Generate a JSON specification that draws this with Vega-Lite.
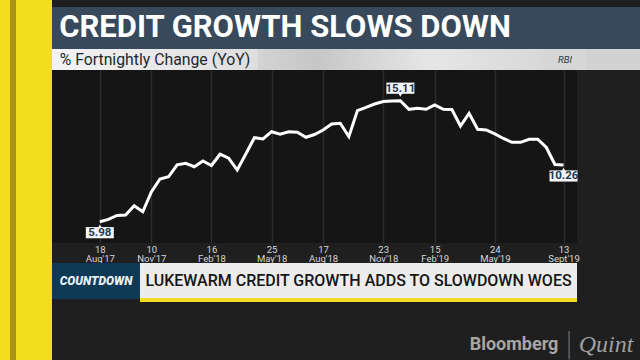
{
  "$schema": "https://vega.github.io/schema/vega-lite/v6.json",
  "background": "#1f1f1f",
  "padding": 0,
  "config": {"view": {"stroke": null}, "concat": {"spacing": 0}, "font": "Roboto"},
  "datasets": {
    "blank": [],
    "credit": [
      {"date": "2017-08-18", "value": 5.98},
      {"date": "2017-09-01", "value": 6.15},
      {"date": "2017-09-15", "value": 6.45},
      {"date": "2017-09-29", "value": 6.49},
      {"date": "2017-10-13", "value": 7.18},
      {"date": "2017-10-27", "value": 6.73},
      {"date": "2017-11-10", "value": 8.22},
      {"date": "2017-11-24", "value": 9.2},
      {"date": "2017-12-08", "value": 9.37},
      {"date": "2017-12-22", "value": 10.27},
      {"date": "2018-01-05", "value": 10.39},
      {"date": "2018-01-19", "value": 10.13},
      {"date": "2018-02-02", "value": 10.56},
      {"date": "2018-02-16", "value": 10.22},
      {"date": "2018-03-02", "value": 11.07},
      {"date": "2018-03-16", "value": 10.77},
      {"date": "2018-03-30", "value": 9.88},
      {"date": "2018-04-13", "value": 11.09},
      {"date": "2018-04-27", "value": 12.32},
      {"date": "2018-05-11", "value": 12.22},
      {"date": "2018-05-25", "value": 12.77},
      {"date": "2018-06-08", "value": 12.58},
      {"date": "2018-06-22", "value": 12.77},
      {"date": "2018-07-06", "value": 12.73},
      {"date": "2018-07-20", "value": 12.35},
      {"date": "2018-08-03", "value": 12.56},
      {"date": "2018-08-17", "value": 12.9},
      {"date": "2018-08-31", "value": 13.35},
      {"date": "2018-09-14", "value": 13.41},
      {"date": "2018-09-28", "value": 12.4},
      {"date": "2018-10-12", "value": 14.36},
      {"date": "2018-10-26", "value": 14.6},
      {"date": "2018-11-09", "value": 14.86},
      {"date": "2018-11-23", "value": 15.05},
      {"date": "2018-12-07", "value": 15.08},
      {"date": "2018-12-21", "value": 15.11},
      {"date": "2019-01-04", "value": 14.46},
      {"date": "2019-01-18", "value": 14.54},
      {"date": "2019-02-01", "value": 14.46},
      {"date": "2019-02-15", "value": 14.79},
      {"date": "2019-03-01", "value": 14.46},
      {"date": "2019-03-15", "value": 14.45},
      {"date": "2019-03-29", "value": 13.2},
      {"date": "2019-04-12", "value": 14.16},
      {"date": "2019-04-26", "value": 12.95},
      {"date": "2019-05-10", "value": 12.9},
      {"date": "2019-05-24", "value": 12.6},
      {"date": "2019-06-07", "value": 12.26},
      {"date": "2019-06-21", "value": 11.97},
      {"date": "2019-07-05", "value": 11.97},
      {"date": "2019-07-19", "value": 12.2},
      {"date": "2019-08-02", "value": 12.2},
      {"date": "2019-08-16", "value": 11.58},
      {"date": "2019-08-30", "value": 10.3},
      {"date": "2019-09-13", "value": 10.26}
    ]
  },
  "spacing": 0,
  "hconcat": [
    {"width": 10, "height": 360, "view": {"fill": "#f4dc1e"}, "data": {"name": "blank"}, "mark": "text", "encoding": {"text": {"field": "label", "type": "nominal"}}},
    {"width": 6, "height": 360, "view": {"fill": "#a8921a"}, "data": {"name": "blank"}, "mark": "text", "encoding": {"text": {"field": "label", "type": "nominal"}}},
    {"width": 36, "height": 360, "view": {"fill": "#f4dc1e"}, "data": {"name": "blank"}, "mark": "text", "encoding": {"text": {"field": "label", "type": "nominal"}}},
    {
      "spacing": 0,
      "vconcat": [
        {"width": 588, "height": 7, "data": {"name": "blank"}, "mark": "text", "encoding": {"text": {"field": "label", "type": "nominal"}}},
        {
          "spacing": 0,
          "hconcat": [
            {"width": 466, "height": 42, "view": {"fill": "#37495b"}, "data": {"values": [{"label": "CREDIT GROWTH SLOWS DOWN"}]}, "mark": {"type": "text", "font": "Roboto", "fontSize": 31, "fontWeight": "bold", "color": "#ffffff", "baseline": "middle"}, "encoding": {"text": {"field": "label", "type": "nominal"}}},
            {"width": 122, "height": 42, "view": {"fill": "#37495b"}, "data": {"name": "blank"}, "mark": "text", "encoding": {"text": {"field": "label", "type": "nominal"}}}
          ]
        },
        {
          "spacing": 0,
          "hconcat": [
            {"width": 206, "height": 21, "view": {"fill": {"gradient": "linear", "stops": [{"offset": 0, "color": "#f3f3f3"}, {"offset": 1, "color": "#dedede"}]}}, "data": {"values": [{"label": "% Fortnightly Change (YoY)"}]}, "mark": {"type": "text", "font": "Roboto", "fontSize": 15.8, "color": "#1e2830", "baseline": "middle"}, "encoding": {"text": {"field": "label", "type": "nominal"}}},
            {"width": 285, "height": 21, "view": {"fill": {"gradient": "linear", "stops": [{"offset": 0, "color": "#d4d4d4"}, {"offset": 0.2, "color": "#c6c6c6"}, {"offset": 0.6, "color": "#e6e6e6"}, {"offset": 1, "color": "#d8d8d8"}]}}, "data": {"name": "blank"}, "mark": "text", "encoding": {"text": {"field": "label", "type": "nominal"}}},
            {"width": 44, "height": 21, "view": {"fill": "#d6d6d6"}, "data": {"values": [{"label": "RBI"}]}, "mark": {"type": "text", "font": "Roboto", "fontSize": 9.5, "fontStyle": "italic", "color": "#333333", "baseline": "middle"}, "encoding": {"text": {"field": "label", "type": "nominal"}}},
            {"width": 53, "height": 21, "view": {"fill": "#d2d2d2"}, "data": {"name": "blank"}, "mark": "text", "encoding": {"text": {"field": "label", "type": "nominal"}}}
          ]
        },
        {
          "spacing": 20,
          "bounds": "flush",
          "vconcat": [
            {
              "width": 525, "height": 173,
              "view": {"fill": "#151515"},
              "data": {"name": "credit"},
              "encoding": {
                "x": {
                  "field": "date", "type": "temporal",
                  "scale": {"type": "utc", "domain": [{"year": 2017, "month": 6, "date": 1, "utc": true}, {"year": 2019, "month": 10, "date": 5, "utc": true}]},
                  "axis": {
                    "values": [
                      {"year": 2017, "month": 8, "date": 18, "utc": true},
                      {"year": 2017, "month": 11, "date": 10, "utc": true},
                      {"year": 2018, "month": 2, "date": 16, "utc": true},
                      {"year": 2018, "month": 5, "date": 25, "utc": true},
                      {"year": 2018, "month": 8, "date": 17, "utc": true},
                      {"year": 2018, "month": 11, "date": 23, "utc": true},
                      {"year": 2019, "month": 2, "date": 15, "utc": true},
                      {"year": 2019, "month": 5, "date": 24, "utc": true},
                      {"year": 2019, "month": 9, "date": 13, "utc": true}
                    ],
                    "labelExpr": "[utcFormat(datum.value, '%d'), (utcFormat(datum.value, '%b') == 'Sep' ? 'Sept' : utcFormat(datum.value, '%b')) + \"'\" + utcFormat(datum.value, '%y')]",
                    "grid": true, "gridColor": "#2d2d2d", "gridWidth": 1.5,
                    "domain": false, "ticks": false,
                    "labelColor": "#d8d8d8", "labelFont": "Roboto", "labelFontSize": 9.5, "labelLineHeight": 9.5, "labelPadding": 1,
                    "labelFlush": false, "labelOverlap": false, "title": null
                  }
                },
                "y": {"field": "value", "type": "quantitative", "scale": {"domain": [4.372, 17.427], "nice": false, "zero": false}, "axis": null}
              },
              "layer": [
                {"mark": {"type": "line", "color": "#ffffff", "strokeWidth": 3, "strokeJoin": "miter", "strokeMiterLimit": 3}},
                {"transform": [{"filter": "datum.value == 5.98 || datum.value == 10.26"}], "mark": {"type": "point", "shape": "triangle-up", "filled": true, "color": "#f5f5f5", "opacity": 1, "size": 25, "yOffset": 5}},
                {"transform": [{"filter": "datum.value == 5.98 || datum.value == 10.26"}], "mark": {"type": "point", "shape": "M-1,-0.4L1,-0.4L1,0.4L-1,0.4Z", "filled": true, "color": "#f5f5f5", "opacity": 1, "size": 784, "yOffset": 11}},
                {"transform": [{"filter": "datum.value == 5.98 || datum.value == 10.26"}], "mark": {"type": "text", "yOffset": 11.5, "font": "Roboto", "fontWeight": "bold", "fontSize": 11.5, "color": "#1c3a56", "baseline": "middle"}, "encoding": {"text": {"field": "value", "type": "quantitative", "format": ".2f"}}},
                {"transform": [{"filter": "datum.value == 15.11"}], "mark": {"type": "point", "shape": "triangle-down", "filled": true, "color": "#f5f5f5", "opacity": 1, "size": 25, "yOffset": -6}},
                {"transform": [{"filter": "datum.value == 15.11"}], "mark": {"type": "point", "shape": "M-1,-0.4L1,-0.4L1,0.4L-1,0.4Z", "filled": true, "color": "#f5f5f5", "opacity": 1, "size": 784, "yOffset": -12.5}},
                {"transform": [{"filter": "datum.value == 15.11"}], "mark": {"type": "text", "yOffset": -12, "font": "Roboto", "fontWeight": "bold", "fontSize": 11.5, "color": "#1c3a56", "baseline": "middle"}, "encoding": {"text": {"field": "value", "type": "quantitative", "format": ".2f"}}}
              ]
            },
            {
              "spacing": 29,
              "vconcat": [
                {
                  "spacing": 0,
                  "hconcat": [
                    {"width": 88, "height": 36, "view": {"fill": "#0f3a55"}, "data": {"values": [{"label": "COUNTDOWN"}]}, "mark": {"type": "text", "font": "Roboto", "fontSize": 12, "fontWeight": 900, "fontStyle": "italic", "color": "#e6eef4", "baseline": "middle"}, "encoding": {"text": {"field": "label", "type": "nominal"}}},
                    {
                      "spacing": 0,
                      "vconcat": [
                        {"width": 437, "height": 35, "view": {"fill": "#ececec"}, "data": {"values": [{"label": "LUKEWARM CREDIT GROWTH ADDS TO SLOWDOWN WOES"}]}, "mark": {"type": "text", "font": "Roboto", "fontSize": 16, "fontWeight": 500, "color": "#161616", "baseline": "middle"}, "encoding": {"text": {"field": "label", "type": "nominal"}}},
                        {"width": 437, "height": 4, "view": {"fill": "#f0dc24"}, "data": {"name": "blank"}, "mark": "text", "encoding": {"text": {"field": "label", "type": "nominal"}}}
                      ]
                    }
                  ]
                },
                {
                  "spacing": 0,
                  "hconcat": [
                    {"width": 412, "height": 28, "data": {"name": "blank"}, "mark": "text", "encoding": {"text": {"field": "label", "type": "nominal"}}},
                    {"width": 100, "height": 28, "data": {"values": [{"label": "Bloomberg"}]}, "mark": {"type": "text", "font": "Roboto", "fontSize": 18, "fontWeight": "bold", "color": "#a6a6a6", "baseline": "middle"}, "encoding": {"text": {"field": "label", "type": "nominal"}}},
                    {"width": 8, "height": 28, "data": {"values": [{"label": "|"}]}, "mark": {"type": "text", "font": "DejaVu Sans", "fontSize": 28, "fontWeight": 100, "color": "#6a6a6a", "baseline": "middle"}, "encoding": {"text": {"field": "label", "type": "nominal"}}},
                    {"width": 64, "height": 28, "data": {"values": [{"label": "Quint"}]}, "mark": {"type": "text", "font": "Liberation Serif", "fontSize": 24, "fontStyle": "italic", "color": "#a0a0a0", "baseline": "middle"}, "encoding": {"text": {"field": "label", "type": "nominal"}}}
                  ]
                }
              ]
            }
          ]
        }
      ]
    }
  ]
}
